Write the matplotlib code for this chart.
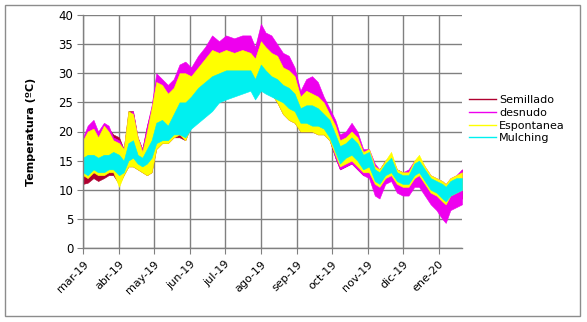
import matplotlib
matplotlib.use("Agg")
import matplotlib.pyplot as plt
from matplotlib.patches import Rectangle
import numpy as np
import pandas as pd

# ---------------- data (envelopes) ----------------
dates = ["2019-03-01","2019-03-05","2019-03-10","2019-03-14","2019-03-19","2019-03-23","2019-03-27",
         "2019-04-01","2019-04-05","2019-04-09","2019-04-13","2019-04-17","2019-04-21","2019-04-25","2019-04-29",
         "2019-05-03","2019-05-08","2019-05-13","2019-05-18","2019-05-23","2019-05-28",
         "2019-06-02","2019-06-08","2019-06-14","2019-06-20","2019-06-26",
         "2019-07-02","2019-07-09","2019-07-16","2019-07-23","2019-07-27",
         "2019-08-01","2019-08-05","2019-08-10","2019-08-15","2019-08-20","2019-08-25","2019-08-30",
         "2019-09-04","2019-09-09","2019-09-14","2019-09-19","2019-09-24","2019-09-29",
         "2019-10-04","2019-10-08","2019-10-13","2019-10-18","2019-10-23","2019-10-28",
         "2019-11-02","2019-11-07","2019-11-11","2019-11-16","2019-11-21","2019-11-26",
         "2019-12-01","2019-12-06","2019-12-11","2019-12-15","2019-12-20","2019-12-25","2019-12-30",
         "2020-01-04","2020-01-07","2020-01-11","2020-01-16","2020-01-21"]

desnudo_max = [19, 21, 22, 20, 21.5, 21, 19,
               18.5, 17, 23, 23.5, 19, 17, 21, 24.5,
               30, 29, 28, 29, 31.5, 32,
               31, 33, 34.5, 36.5, 35.5,
               36.5, 36, 36.5, 36.5, 34.5,
               38.5, 37, 36.5, 35, 33.5, 33, 31,
               27, 29, 29.5, 28.5, 26, 24,
               22, 19.5, 20, 21.5, 20, 17,
               17, 14.5, 13.5, 15, 16, 13.5,
               13, 13.5, 15, 15.5, 14, 12.5, 12,
               11.5, 11, 12, 12.5, 13.5]
desnudo_min = [12.5, 12.5, 13, 13, 13, 13.5, 13.5,
               11, 13, 14.5, 14.5, 14, 13.5, 13, 13.5,
               17.5, 18.5, 18.5, 19.5, 20, 19,
               21, 22, 23, 24, 25.5,
               26, 26.5, 27, 27.5, 26,
               27.5, 27, 26.5, 25.5, 23.5, 22.5, 22,
               20.5, 20.5, 20.5, 20, 20, 19,
               15.5, 13.5, 14, 14.5, 13.5, 12.5,
               12, 9, 8.5, 11, 11.5, 9.5,
               9, 9, 10.5, 10.5, 9, 7.5, 6.5,
               5, 4.3, 6.5, 7, 7.5]
espontanea_max = [18.5, 20, 20.5, 19, 21, 20, 18.5,
                  18, 17, 23.5, 23, 19, 16.5, 20, 24,
                  28.5, 28, 26.5, 27.5, 30, 30,
                  29.5, 31, 32.5, 34, 33.5,
                  34, 33.5, 34, 33.5, 32.5,
                  35.5, 34.5, 33.5, 33, 31, 30.5, 29.5,
                  26, 27, 26.5, 26, 25, 23,
                  21, 18.5, 19, 20, 19, 16.5,
                  17, 14, 13.5, 15, 16.5, 13.5,
                  13, 13, 15, 16, 14, 12.5, 12,
                  11.5, 11, 12, 12.5, 13]
espontanea_min = [12.5, 12, 13, 12.5, 12.5, 13, 13,
                  10.5, 12.5, 14, 14, 13.5, 13, 12.5, 13,
                  17, 18, 18, 19, 19.5, 18.5,
                  21, 22, 23, 24, 25.5,
                  26, 26.5, 27, 27.5, 26,
                  27.5, 27, 26.5, 25, 23, 22, 21.5,
                  20, 20, 20, 19.5, 19.5, 18.5,
                  16, 14, 14.5, 15, 14, 13,
                  13, 11, 10.5, 12, 12.5, 11,
                  10.5, 10.5, 12, 12.5, 11, 9.5, 9,
                  8, 7.5, 9, 9.5, 10]
mulching_max = [15.5, 16, 16, 15.5, 16, 16, 16.5,
                16, 15, 18, 18.5, 16, 15.5, 17, 18.5,
                21.5, 22, 21, 23, 25, 25,
                26, 27.5, 28.5, 29.5, 30,
                30.5, 30.5, 30.5, 30.5, 29,
                31.5, 30.5, 29.5, 29, 28, 27.5, 26.5,
                24, 24.5, 24.5, 24, 23, 22,
                19.5, 17.5, 18, 19, 18, 16,
                16.5, 13.5, 13, 14.5, 15.5, 13,
                12.5, 12.5, 14.5, 15, 13.5, 12, 11.5,
                11, 10.5, 11.5, 12, 12]
mulching_min = [13, 12.5, 13.5, 13, 13, 13.5, 13.5,
                12.5, 13, 15, 15.5, 14.5, 14, 14.5, 15.5,
                18, 18.5, 18.5, 19.5, 19.5, 19,
                20.5, 21.5, 22.5, 23.5, 25,
                25.5, 26, 26.5, 27, 25.5,
                27, 26.5, 26, 25.5, 25, 24, 23.5,
                21.5, 21.5, 21, 21, 20.5, 19,
                16.5, 14.5, 15.5, 16, 15, 13.5,
                14, 11.5, 11, 12.5, 13, 11.5,
                11, 11, 12.5, 13, 11.5, 10, 9.5,
                8.5, 8, 9, 9.5, 10]
semillado_max = [18, 20, 21, 19, 21, 20.5, 19.5,
                 19, 17, 23.5, 23.5, 19, 17, 21, 24,
                 29, 28.5, 27.5, 28.5, 31, 31.5,
                 30.5, 32.5, 34, 36, 35,
                 36, 35.5, 36, 36, 34,
                 38, 36.5, 36, 34.5, 33, 32.5, 30.5,
                 26.5, 28.5, 29, 28, 25.5, 23.5,
                 21.5, 19, 19.5, 21, 19.5, 16.5,
                 16.5, 14, 13.5, 15, 15.5, 13.5,
                 13, 13, 14.5, 15, 13.5, 12, 11.5,
                 11, 10.5, 11.5, 12, 13.5]
semillado_min = [11, 11.2, 12, 11.5, 12, 12.5, 12.5,
                 11, 12.5, 14, 14, 13.5, 13, 12.5, 13,
                 17, 18, 18, 19, 19, 18.5,
                 21, 22, 23, 24, 25.5,
                 26, 26.5, 27, 27.5, 26,
                 27.5, 27, 26.5, 25, 23, 22, 21.5,
                 20, 20, 20, 19.5, 19.5, 18.5,
                 15.5, 13.5, 14, 14.5, 13.5, 12.5,
                 12.5, 10, 9.5, 11.5, 12, 10,
                 9.5, 9.5, 11, 11.5, 10, 8.5, 7.5,
                 6, 5.5, 7.5, 8, 8.5]

series_names = ["Semillado", "desnudo", "Espontanea", "Mulching"]
series_colors = ["#B00030", "#EE00EE", "#FFFF00", "#00F0F0"]
tick_labels = ["mar-19", "abr-19", "may-19", "jun-19", "jul-19", "ago-19",
               "sep-19", "oct-19", "nov-19", "dic-19", "ene-20"]
tick_dates = ["2019-03-01", "2019-04-01", "2019-05-01", "2019-06-01", "2019-07-01", "2019-08-01",
              "2019-09-01", "2019-10-01", "2019-11-01", "2019-12-01", "2020-01-01"]

# ---------------- figure ----------------
plt.rcParams['font.family'] = ['DejaVu Sans']
fig = plt.figure(figsize=(5.87, 3.22), dpi=100)
fig.patch.set_facecolor("white")
fig.patches.append(Rectangle((5/587, 1-316/322), 575/587, 311/322, transform=fig.transFigure,
                             fill=False, edgecolor="#8c8c8c", linewidth=1.0))

ax = fig.add_axes([83/587, 1-248/322, (462-83)/587, (248-15)/322])
x = pd.to_datetime(dates)
hi = [semillado_max, desnudo_max, espontanea_max, mulching_max]
lo = [semillado_min, desnudo_min, espontanea_min, mulching_min]
for name, col, h, l in zip(series_names, series_colors, hi, lo):
    ax.fill_between(x, l, h, color=col, linewidth=0.4, edgecolor=col, zorder=2)
    ax.plot([], [], color=col, lw=1.0, label=name)

ax.set_xlim(pd.Timestamp("2019-03-01"), pd.Timestamp("2020-01-21"))
ax.set_ylim(0, 40)
ax.set_yticks(np.arange(0, 41, 5))
ax.set_xticks(pd.to_datetime(tick_dates))
ax.set_xticklabels(tick_labels, rotation=45, ha="right", rotation_mode="anchor", fontsize=8)
ax.tick_params(axis="y", labelsize=8.5, length=4, color="#808080", pad=3)
ax.tick_params(axis="x", length=4, color="#808080", pad=4)
ax.grid(True, color="#808080", linewidth=1.0)
ax.set_axisbelow(True)
for s in ["top", "right"]:
    ax.spines[s].set_visible(False)
for s in ["left", "bottom"]:
    ax.spines[s].set_color("#808080")
    ax.spines[s].set_linewidth(1.0)

ax.set_ylabel("Temperatura (ºC)", fontsize=8, fontweight="bold", labelpad=16)

leg = fig.legend(loc="upper left", bbox_to_anchor=(469/587, 1-95/322), frameon=False,
                 fontsize=8, handlelength=2.4, handletextpad=0.3, labelspacing=0.25,
                 borderpad=0.0, borderaxespad=0.0)

fig.savefig("out.png", dpi=100, facecolor="white")
